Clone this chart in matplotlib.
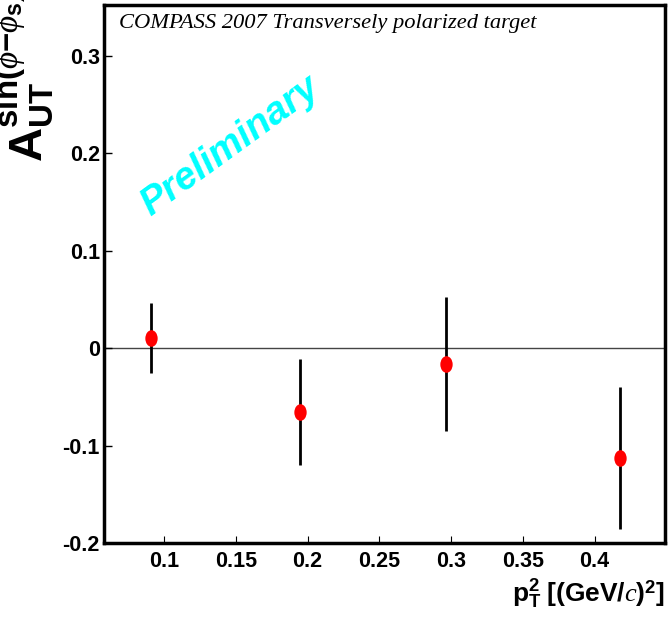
import numpy as np
import matplotlib
matplotlib.use("Agg")
import matplotlib.pyplot as plt
from matplotlib.path import Path
from matplotlib.transforms import Affine2D

# pT^2 bins and asymmetry values
pt2 = [0.0907, 0.195, 0.2964, 0.4178]
asym = [0.010, -0.0656, -0.0164, -0.1128]
asym_err = [0.036, 0.054, 0.069, 0.073]

yticks = [-0.2, -0.1, 0.0, 0.1, 0.2, 0.3]
ytick_labels = ["-0.2", "-0.1", "0", "0.1", "0.2", "0.3"]
xticks = [0.1, 0.15, 0.2, 0.25, 0.3, 0.35, 0.4]
xtick_labels = ["0.1", "0.15", "0.2", "0.25", "0.3", "0.35", "0.4"]

SANS = ["Liberation Sans", "DejaVu Sans"]
plt.rcParams["mathtext.fontset"] = "custom"
plt.rcParams["mathtext.rm"] = "Liberation Sans"
plt.rcParams["mathtext.bf"] = "Liberation Sans:bold"
plt.rcParams["mathtext.it"] = "Liberation Serif:italic"

fig = plt.figure(figsize=(6.68, 6.19), dpi=100)
ax = fig.add_axes([0.1557, 0.1228, 0.9955 - 0.1557, 0.9919 - 0.1228])

ax.set_xlim(0.0582, 0.449)
ax.set_ylim(-0.2, 0.352)

ax.axhline(0, color="#444444", lw=1.0, zorder=1)

ellipse = Path.unit_circle().transformed(Affine2D().scale(0.74, 1.0))
ax.errorbar(pt2, asym, yerr=asym_err, fmt="none", ecolor="black",
            elinewidth=2.0, capsize=0, zorder=2)
ax.plot(pt2, asym, linestyle="none", marker=ellipse, markersize=12,
        color="red", markeredgewidth=0, zorder=3)

ax.set_yticks(yticks)
ax.set_yticklabels(ytick_labels)
ax.set_xticks(xticks)
ax.set_xticklabels(xtick_labels)
ax.tick_params(axis="y", direction="in", length=6, width=1.0, pad=3,
               labelsize=15.5)
ax.tick_params(axis="x", direction="in", length=5, width=0.8, pad=6,
               labelsize=15.5)
for lab in ax.get_xticklabels() + ax.get_yticklabels():
    lab.set_family(SANS)
    lab.set_fontweight("bold")
for sp in ax.spines.values():
    sp.set_linewidth(2.5)

ax.text(0.026, 0.983, "COMPASS 2007 Transversely polarized target",
        transform=ax.transAxes, ha="left", va="top", fontsize=16.2,
        family=["Liberation Serif"], style="italic")

ax.text(0.2246, 0.738, "Preliminary", transform=ax.transAxes, color="cyan",
        fontsize=28, fontweight="bold", style="italic", rotation=36,
        ha="center", va="center", family=SANS)

fig.text(0.037, 0.738,
         r"$\mathbf{A}_{\mathbf{UT}}^{\mathbf{sin(}\phi\mathbf{-}\phi_{\mathbf{s}}\mathbf{)}}$",
         rotation=90, ha="center", va="bottom", fontsize=34)

fig.text(0.996, 0.027,
         r"$\mathbf{p}_{\mathbf{T}}^{\mathbf{2}}\ \mathbf{[(GeV/}\mathit{c}\mathbf{)}^{\mathbf{2}}\mathbf{]}$",
         ha="right", va="baseline", fontsize=19)

fig.savefig("out.png", dpi=100)
